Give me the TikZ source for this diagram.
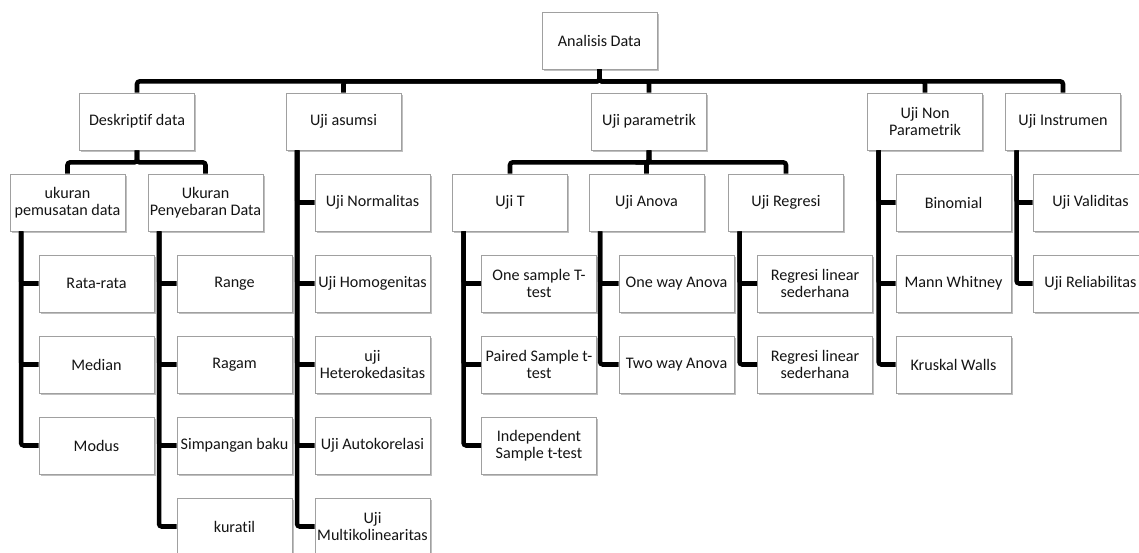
\documentclass[tikz,border=0pt]{standalone}
\usepackage{fontspec}
\setmainfont[Ligatures=NoCommon]{Carlito}
\usetikzlibrary{shadows}
\definecolor{boxline}{HTML}{A0A0A0}
\definecolor{txt}{HTML}{141414}
\tikzset{
  box/.style={draw=boxline, line width=0.6pt, fill=white, minimum width=86.25pt, minimum height=42.75pt,
    inner sep=0pt, align=center, text=txt, font=\fontsize{12.1}{12.7}\selectfont,
    drop shadow={shadow xshift=1.2pt, shadow yshift=-1.8pt, fill=black, opacity=0.25}},
  conn/.style={line width=3.4pt, black, rounded corners=2pt},
}
\begin{document}
\begin{tikzpicture}[x=0.75pt, y=-0.75pt]
\useasboundingbox (0,0) rectangle (1139,553);
\clip (0,0) rectangle (1139,553);
% root
\node[box] (root) at (599.5,40.5) {Analisis Data};
% level 1
\node[box] (desk) at (137,121.5) {Deskriptif data};
\node[box] (asum) at (343.5,121.5) {Uji asumsi};
\node[box] (para) at (649,121.5) {Uji parametrik};
\node[box] (nonp) at (925,121.5) {Uji Non\\Parametrik};
\node[box] (inst) at (1063,121.5) {Uji Instrumen};
% level 2
\node[box] (pem) at (67.5,202.5) {ukuran\\pemusatan data};
\node[box] (pen) at (205.5,202.5) {Ukuran\\Penyebaran Data};
\node[box] (ujit) at (510,202.5) {Uji T};
\node[box] (anov) at (646.5,202.5) {Uji Anova};
\node[box] (regr) at (786,202.5) {Uji Regresi};
% pemusatan children
\node[box] (pem1) at (96.5,283.5) {Rata-rata};
\node[box] (pem2) at (96.5,364.5) {Median};
\node[box] (pem3) at (96.5,445.5) {Modus};
% penyebaran children
\node[box] (pen1) at (234.5,283.5) {Range};
\node[box] (pen2) at (234.5,364.5) {Ragam};
\node[box] (pen3) at (234.5,445.5) {Simpangan baku};
\node[box] (pen4) at (234.5,526.5) {kuratil};
% asumsi children
\node[box] (asu1) at (372.5,202.5) {Uji Normalitas};
\node[box] (asu2) at (372.5,283.5) {Uji Homogenitas};
\node[box] (asu3) at (372.5,364.5) {uji\\Heterokedasitas};
\node[box] (asu4) at (372.5,445.5) {Uji Autokorelasi};
\node[box] (asu5) at (372.5,526.5) {Uji\\Multikolinearitas};
% uji T children
\node[box] (t1) at (539,283.5) {One sample T-\\test};
\node[box] (t2) at (539,364.5) {Paired Sample t-\\test};
\node[box] (t3) at (539,445.5) {Independent\\Sample t-test};
% anova children
\node[box] (a1) at (676.5,283.5) {One way Anova};
\node[box] (a2) at (676.5,364.5) {Two way Anova};
% regresi children
\node[box] (r1) at (815,283.5) {Regresi linear\\sederhana};
\node[box] (r2) at (815,364.5) {Regresi linear\\sederhana};
% non parametrik children
\node[box] (n1) at (953.5,202.5) {Binomial};
\node[box] (n2) at (953.5,283.5) {Mann Whitney};
\node[box] (n3) at (953.5,364.5) {Kruskal Walls};
% instrumen children
\node[box] (i1) at (1090.5,202.5) {Uji Validitas};
\node[box] (i2) at (1090.5,283.5) {Uji Reliabilitas};
% connectors: root bus
\foreach \c in {desk,asum,para,nonp,inst}
  \draw[conn] (root.south) -- ++(0,12) -| (\c.north);
% deskriptif bus
\foreach \c in {pem,pen}
  \draw[conn] (desk.south) -- ++(0,12) -| (\c.north);
% parametrik bus
\foreach \c in {ujit,anov,regr}
  \draw[conn] (para.south) -- ++(0,12) -| (\c.north);
% vertical lists
\foreach \p/\c in {pem/pem1,pem/pem2,pem/pem3,
                   pen/pen1,pen/pen2,pen/pen3,pen/pen4,
                   asum/asu1,asum/asu2,asum/asu3,asum/asu4,asum/asu5,
                   ujit/t1,ujit/t2,ujit/t3,
                   anov/a1,anov/a2,
                   regr/r1,regr/r2,
                   nonp/n1,nonp/n2,nonp/n3,
                   inst/i1,inst/i2}
  \draw[conn] ([xshift=8.6pt]\p.south west) |- (\c.west);
\end{tikzpicture}
\end{document}
